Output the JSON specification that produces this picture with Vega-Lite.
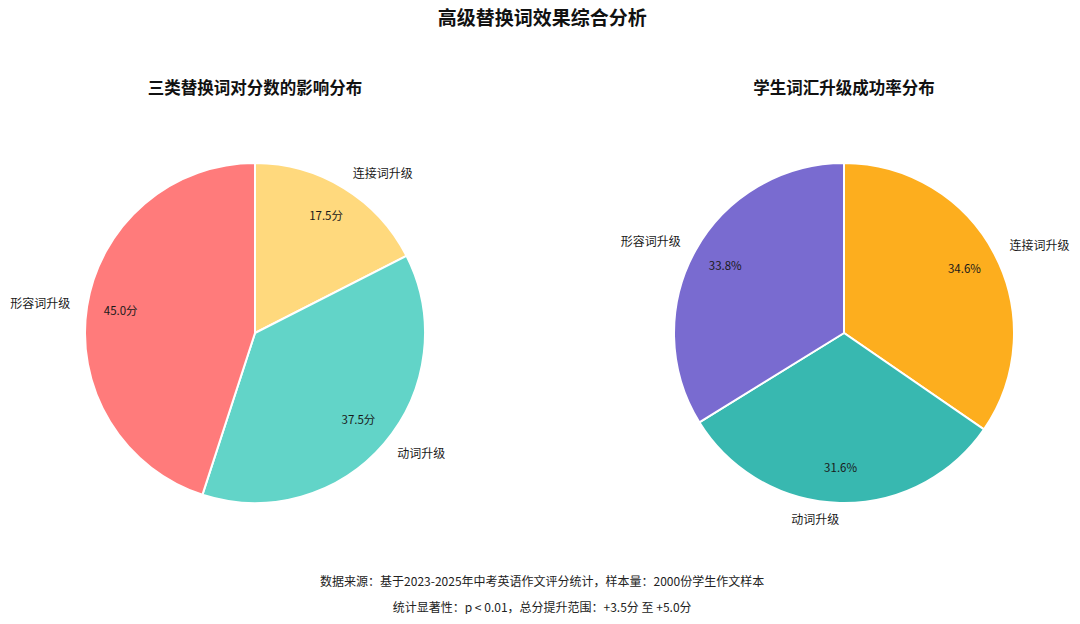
{
  "$schema": "https://vega.github.io/schema/vega-lite/v6.json",
  "background": "white",
  "padding": {"left": 10, "top": 9, "right": 0, "bottom": 0},
  "config": {
    "font": "Noto Sans CJK SC",
    "view": {"stroke": null},
    "title": {"font": "Noto Sans CJK SC", "color": "#111"}
  },
  "title": {
    "text": [
      "数据来源：基于2023-2025年中考英语作文评分统计，样本量：2000份学生作文样本",
      "统计显著性：p < 0.01，总分提升范围：+3.5分 至 +5.0分"
    ],
    "orient": "bottom",
    "anchor": "middle",
    "fontSize": 12,
    "fontWeight": "normal",
    "lineHeight": 26,
    "offset": 51,
    "color": "#222"
  },
  "vconcat": [
    {
      "title": {"text": "高级替换词效果综合分析", "fontSize": 19, "fontWeight": "bold", "anchor": "middle", "offset": 52},
      "bounds": "flush",
      "spacing": 129,
      "resolve": {"scale": {"color": "independent"}},
      "hconcat": [
        {
          "width": 460,
          "height": 384,
          "title": {"text": "三类替换词对分数的影响分布", "fontSize": 16.5, "fontWeight": "bold", "offset": 44},
          "data": {
            "values": [
              {"cat": "连接词升级", "value": 17.5, "label": "17.5分", "idx": 1},
              {"cat": "动词升级", "value": 37.5, "label": "37.5分", "idx": 2},
              {"cat": "形容词升级", "value": 45.0, "label": "45.0分", "idx": 3}
            ]
          },
          "encoding": {
            "theta": {"field": "value", "type": "quantitative", "stack": true},
            "order": {"field": "idx", "type": "quantitative"}
          },
          "layer": [
            {
              "mark": {"type": "arc", "outerRadius": 170, "stroke": "white", "strokeWidth": 2},
              "encoding": {
                "color": {
                  "field": "cat",
                  "type": "nominal",
                  "scale": {
                    "domain": ["连接词升级", "动词升级", "形容词升级"],
                    "range": ["#FFD97D", "#62D4C8", "#FF7B7B"]
                  },
                  "legend": null
                }
              }
            },
            {
              "mark": {"type": "text", "radius": 136, "fontSize": 11.5, "fill": "#1a1a1a", "baseline": "middle"},
              "encoding": {
                "detail": {"field": "cat", "type": "nominal"},
                "text": {"field": "label", "type": "nominal"}
              }
            },
            {
              "mark": {"type": "text", "radius": 187, "fontSize": 12, "fill": "#1a1a1a", "align": "left", "baseline": "middle"},
              "encoding": {
                "detail": {"field": "cat", "type": "nominal"},
                "text": {
                  "condition": {"test": "datum.cat === '形容词升级'", "value": ""},
                  "field": "cat",
                  "type": "nominal"
                }
              }
            },
            {
              "mark": {"type": "text", "radius": 187, "fontSize": 12, "fill": "#1a1a1a", "align": "right", "baseline": "middle"},
              "encoding": {
                "detail": {"field": "cat", "type": "nominal"},
                "text": {
                  "condition": {"test": "datum.cat !== '形容词升级'", "value": ""},
                  "field": "cat",
                  "type": "nominal"
                }
              }
            }
          ]
        },
        {
          "width": 460,
          "height": 384,
          "title": {"text": "学生词汇升级成功率分布", "fontSize": 16.5, "fontWeight": "bold", "offset": 44},
          "data": {
            "values": [
              {"cat": "连接词升级", "value": 34.6, "label": "34.6%", "idx": 1},
              {"cat": "动词升级", "value": 31.6, "label": "31.6%", "idx": 2},
              {"cat": "形容词升级", "value": 33.8, "label": "33.8%", "idx": 3}
            ]
          },
          "encoding": {
            "theta": {"field": "value", "type": "quantitative", "stack": true},
            "order": {"field": "idx", "type": "quantitative"}
          },
          "layer": [
            {
              "mark": {"type": "arc", "outerRadius": 170, "stroke": "white", "strokeWidth": 2},
              "encoding": {
                "color": {
                  "field": "cat",
                  "type": "nominal",
                  "scale": {
                    "domain": ["连接词升级", "动词升级", "形容词升级"],
                    "range": ["#FDAE1E", "#38B8B0", "#796BD0"]
                  },
                  "legend": null
                }
              }
            },
            {
              "mark": {"type": "text", "radius": 136, "fontSize": 11.5, "fill": "#1a1a1a", "baseline": "middle"},
              "encoding": {
                "detail": {"field": "cat", "type": "nominal"},
                "text": {"field": "label", "type": "nominal"}
              }
            },
            {
              "mark": {"type": "text", "radius": 187, "fontSize": 12, "fill": "#1a1a1a", "align": "left", "baseline": "middle"},
              "encoding": {
                "detail": {"field": "cat", "type": "nominal"},
                "text": {
                  "condition": {"test": "datum.cat !== '连接词升级'", "value": ""},
                  "field": "cat",
                  "type": "nominal"
                }
              }
            },
            {
              "mark": {"type": "text", "radius": 187, "fontSize": 12, "fill": "#1a1a1a", "align": "right", "baseline": "middle"},
              "encoding": {
                "detail": {"field": "cat", "type": "nominal"},
                "text": {
                  "condition": {"test": "datum.cat === '连接词升级'", "value": ""},
                  "field": "cat",
                  "type": "nominal"
                }
              }
            }
          ]
        }
      ]
    }
  ]
}
